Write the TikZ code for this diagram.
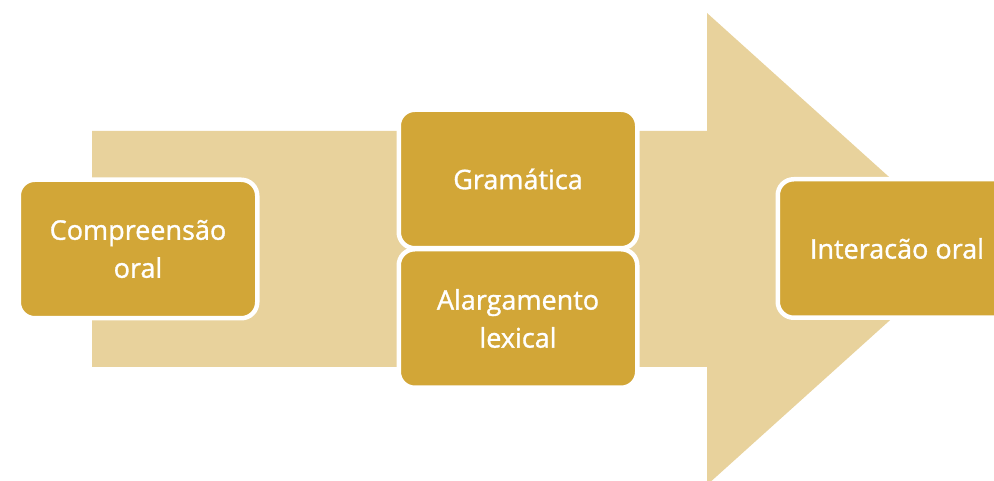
\documentclass[tikz,border=0pt]{standalone}
\usepackage{fontspec}
\setmainfont{Open Sans}
\newfontfamily\etapafont{Open Sans}[FakeBold=1.2]
\definecolor{seta}{RGB}{232,210,156}
\definecolor{ouro}{RGB}{210,166,55}
\tikzset{
  etapa/.style={draw=white, line width=4.5pt, fill=ouro, rounded corners=16pt,
    minimum width=238.5pt, minimum height=138.5pt, align=center, text=white,
    font=\etapafont\fontsize{27}{38}\selectfont, inner sep=0pt}
}
\begin{document}
\begin{tikzpicture}[x=1pt,y=1pt]
		\useasboundingbox (0,0) rectangle (994,481);
		\clip (0,0) rectangle (994,481);
		%seta
		\fill[seta] (92,350) -- (707,350) -- (707,468) -- (969,232) -- (707,-4) -- (707,114) -- (92,114) -- cycle;
		%etapas
		\node[etapa] (compreensao) at (138,232) {Compreensão\\oral};
		\node[etapa] (gramatica) at (518,302) {Gramática};
		\node[etapa] (alargamento) at (518,162.5) {Alargamento\\lexical};
		\node[etapa] (interacao) at (897,232.5) {Interacão oral};
	\end{tikzpicture}
\end{document}
